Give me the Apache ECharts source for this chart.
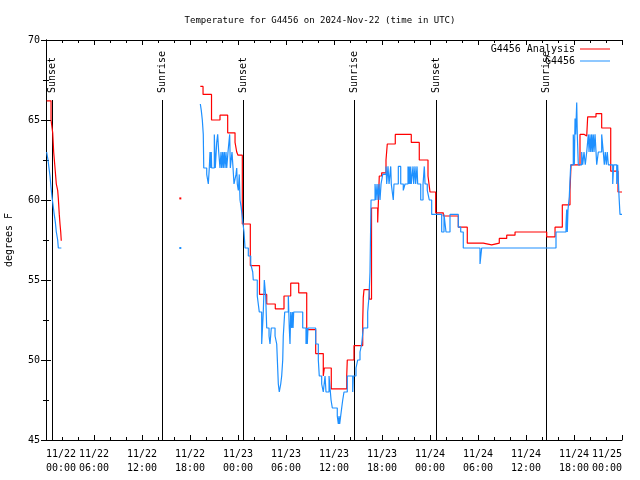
<!DOCTYPE html>
<html><head><meta charset="utf-8">
<script src="https://cdn.jsdelivr.net/npm/echarts@6/dist/echarts.min.js"></script>
<style>html,body{margin:0;padding:0;background:#fff}#c{width:640px;height:480px}</style>
</head><body><div id="c"></div>
<script>
const FONT = '"DejaVu Sans Mono", monospace';
const chartTitle = 'Temperature for G4456 on 2024-Nov-22 (time in UTC)';
const yAxisName = 'degrees F';
const seriesNames = ['G4456 Analysis', 'G4456'];
const xStartDay = 22; // 2024-11-22 00:00 UTC, x values are hours since then

// [hours since 11/22 00:00 UTC, temperature F]; null = gap
const analysis = [
  [0.08,66.2],[0.63,65.0],[0.84,64.2],[0.96,63.0],[1.16,61.8],[1.29,61.0],[1.46,60.6],[1.54,60.1],
  [1.66,59.1],[1.75,58.5],[1.84,58.0],[1.91,57.45],[1.91,null],
  [16.79,60.1],[16.79,null],
  [19.29,67.1],[19.63,66.6],[20.69,65.0],[21.75,65.3],[22.71,64.2],[23.63,63.6],[23.84,63.0],[24.0,62.8],
  [24.54,58.5],[25.54,55.9],[26.69,54.1],[27.59,53.5],[28.66,53.2],[29.75,54.0],[30.59,54.8],[31.59,54.2],
  [32.59,51.9],[33.71,50.4],[34.66,49.0],[34.79,49.5],[35.66,48.2],[36.75,48.2],[37.59,49.0],[37.66,50.0],
  [38.5,50.9],[39.59,52.4],[39.66,53.9],[39.75,54.4],[40.41,53.8],[40.69,59.5],[41.46,58.6],[41.66,61.5],
  [41.96,61.7],[42.5,62.5],[42.66,63.5],[43.66,64.1],[44.66,64.1],[45.66,63.6],[46.66,62.5],[47.75,61.5],
  [48.0,60.5],[48.71,59.2],[49.66,59.0],[51.54,58.3],[52.66,57.3],[54.66,57.2],[55.71,57.3],[56.66,57.6],
  [57.59,57.8],[58.63,58.0],[60.63,58.0],[61.63,58.0],[62.59,57.7],[63.63,58.3],[64.54,59.7],[65.5,60.6],
  [65.63,62.2],[66.75,64.1],[67.29,64.0],[67.59,63.9],[67.71,65.2],[68.75,65.4],[69.46,64.5],[70.59,61.8],
  [71.5,60.5],[72,60.5]
];

const station = [
  [0.08,63.0],[0.25,62.5],[0.375,62.0],[0.5,61.5],[0.625,60.8],[0.75,60.2],[0.875,59.7],[1.0,59.2],
  [1.17,58.6],[1.29,58.0],[1.46,57.5],[1.54,57.0],[1.92,57.0],[1.92,null],
  [16.79,57.0],[16.79,null],
  [19.29,66.0],[19.41,65.6],[19.54,65.0],[19.66,64.1],[19.72,62.0],[20.09,61.6],[20.29,61.0],[20.41,62.0],
  [20.5,63.0],[20.59,62.0],[20.66,63.0],[20.71,62.0],[21.04,64.1],[21.16,62.0],[21.34,63.6],[21.46,64.1],
  [21.59,63.0],[21.75,62.0],[21.88,63.0],[21.96,62.0],[22.09,63.0],[22.16,62.0],[22.29,63.0],[22.38,62.0],
  [22.5,63.0],[22.59,62.0],[22.75,63.0],[22.96,64.1],[23.04,62.0],[23.25,63.0],[23.38,62.0],[23.5,61.0],
  [23.75,61.6],[23.84,62.0],[23.91,61.0],[24.04,60.6],[24.16,61.6],[24.25,60.0],[24.38,59.6],[24.5,59.1],
  [24.63,58.5],[24.75,58.0],[24.88,57.0],[25.29,56.5],[25.59,56.0],[25.84,55.5],[25.91,55.0],[26.41,54.0],
  [26.66,53.0],[26.96,51.0],[27.16,53.0],[27.29,55.0],[27.46,54.0],[27.59,52.0],[27.88,51.5],[28.0,51.0],
  [28.16,52.0],[28.63,51.5],[28.84,51.0],[29.04,48.5],[29.16,48.0],[29.34,48.5],[29.46,49.0],[29.59,50.0],
  [29.66,51.5],[29.84,53.0],[30.29,54.0],[30.41,52.0],[30.5,51.0],[30.59,53.0],[30.71,52.0],[30.79,53.0],
  [30.88,52.0],[30.96,53.0],[32.09,52.0],[32.5,51.0],[32.59,52.0],[32.66,51.0],[32.75,52.0],[33.71,51.0],
  [34.04,50.0],[34.16,49.0],[34.46,48.5],[34.66,48.0],[34.88,49.0],[35.0,48.0],[35.38,49.0],[35.63,47.5],
  [35.79,47.0],[36.41,46.5],[36.54,46.0],[36.63,46.5],[36.71,46.0],[36.96,47.0],[37.09,47.5],[37.25,48.0],
  [37.66,49.0],[38.34,48.0],[38.41,49.0],[38.75,49.5],[38.96,50.0],[39.25,50.5],[39.46,51.0],[39.66,52.0],
  [40.21,53.0],[40.38,54.0],[40.5,55.5],[40.63,60.0],[41.13,61.0],[41.25,60.0],[41.38,61.0],[41.5,60.0],
  [41.63,61.0],[41.75,60.0],[41.88,61.0],[42.09,61.6],[42.5,62.1],[42.59,61.0],[42.75,62.1],[42.88,61.0],
  [43.09,62.1],[43.16,61.0],[43.41,60.0],[43.5,61.0],[44.04,62.1],[44.34,61.0],[44.66,60.6],[44.88,61.0],
  [45.25,62.1],[45.34,61.0],[45.41,62.1],[45.5,61.0],[45.59,62.1],[45.66,61.0],[45.88,62.1],[45.96,61.0],
  [46.13,62.1],[46.21,61.0],[46.38,62.1],[46.46,61.0],[46.84,60.0],[47.13,61.0],[47.29,62.1],[47.38,61.0],
  [47.66,60.6],[47.91,60.0],[48.21,59.1],[49.46,58.0],[49.75,59.1],[50.0,58.0],[50.5,59.1],[51.54,58.3],
  [51.84,58.0],[52.16,57.0],[54.25,56.0],[54.46,57.0],[63.75,58.0],[65.0,58.5],[65.09,59.4],[65.16,58.0],
  [65.25,59.4],[65.41,60.2],[65.59,62.2],[65.91,64.1],[66.04,62.2],[66.13,65.1],[66.21,64.1],[66.34,66.1],
  [66.41,64.1],[66.54,62.2],[66.96,63.0],[67.09,62.2],[67.25,63.0],[67.41,62.2],[67.59,63.0],[67.79,64.1],
  [67.88,63.0],[68.0,64.1],[68.09,63.0],[68.21,64.1],[68.29,63.0],[68.41,64.1],[68.5,63.0],[68.63,64.1],
  [68.84,62.2],[69.04,63.0],[69.46,64.1],[69.66,63.0],[69.79,62.2],[69.91,63.0],[70.04,62.2],[70.16,63.0],
  [70.29,62.2],[70.84,61.0],[70.96,62.2],[71.34,61.0],[71.46,62.2],[71.63,60.2],[71.75,59.1],[72.0,59.1]
];

const sunHours  = [0.71, 14.54, 24.66, 38.54, 48.71, 62.54];
const sunLabels = ['Sunset', 'Sunrise', 'Sunset', 'Sunrise', 'Sunset', 'Sunrise'];

const X_MIN = 0, X_MAX = 72, X_STEP = 6;
const Y_MIN = 45, Y_MAX = 70, Y_STEP = 5;

function pad(n) { return (n < 10 ? '0' : '') + n; }
function xLabel(v) {
  const day = xStartDay + Math.floor(v / 24);
  const hr = Math.round(v % 24);
  return '11/' + day + '\n' + pad(hr) + ':00';
}
function markIsolated(arr) {
  return arr.map((p, i) => {
    const prev = arr[i - 1], next = arr[i + 1];
    if (p[1] != null && (!prev || prev[1] == null) && (!next || next[1] == null)) {
      return { value: p, symbol: 'rect', symbolSize: 2 };
    }
    return p;
  });
}

const chart = echarts.init(document.getElementById('c'), null, { renderer: 'canvas' });

const baseX = {
  type: 'value', min: X_MIN, max: X_MAX, interval: X_STEP,
  axisLine: { lineStyle: { color: '#000', width: 1 } },
  axisTick: { inside: true, length: 5, lineStyle: { color: '#000' } },
  minorTick: { show: true, splitNumber: 3, length: 3, lineStyle: { color: '#000' } },
  splitLine: { show: false }, minorSplitLine: { show: false }
};
const baseY = {
  type: 'value', min: Y_MIN, max: Y_MAX, interval: Y_STEP,
  axisLine: { show: true, lineStyle: { color: '#000', width: 1 } },
  axisTick: { show: true, inside: true, length: 5, lineStyle: { color: '#000' } },
  minorTick: { show: true, splitNumber: 2, length: 3, lineStyle: { color: '#000' } },
  splitLine: { show: false }, minorSplitLine: { show: false }
};

chart.setOption({
  backgroundColor: '#fff',
  animation: false,
  title: {
    text: chartTitle, left: 'center', top: 11,
    textStyle: { fontFamily: FONT, fontSize: 9, fontWeight: 'normal', color: '#000' }
  },
  legend: {
    data: seriesNames, orient: 'vertical', align: 'right', right: 30, top: 44, padding: 0,
    icon: 'rect', itemWidth: 30, itemHeight: 1, itemGap: 2,
    textStyle: { fontFamily: FONT, fontSize: 10, color: '#000', padding: [0, 0, 0, 0] }
  },
  grid: { left: 46, right: 18, top: 40, bottom: 40, containLabel: false, outerBoundsMode: 'none' },
  xAxis: [
    Object.assign({}, baseX, {
      position: 'bottom',
      axisLabel: { formatter: xLabel, fontFamily: FONT, fontSize: 10, color: '#000', lineHeight: 14, margin: 7,
                   alignMinLabel: 'left', alignMaxLabel: 'right' }
    }),
    Object.assign({}, baseX, { position: 'top', axisLabel: { show: false } })
  ],
  yAxis: [
    Object.assign({}, baseY, {
      position: 'left', name: yAxisName, nameLocation: 'middle', nameGap: 32, nameRotate: 90,
      nameTextStyle: { fontFamily: FONT, fontSize: 10, color: '#000' },
      axisLabel: { fontFamily: FONT, fontSize: 10, color: '#000', margin: 6 }
    }),
    Object.assign({}, baseY, { position: 'right', axisLabel: { show: false } })
  ],
  series: [
    {
      type: 'custom', name: 'sun', silent: true, z: 1, clip: false,
      data: sunHours.map(h => [h, Y_MIN]),
      encode: { x: 0, y: 1 },
      renderItem: function (params, api) {
        const h = api.value(0);
        const b = api.coord([h, Y_MIN]);
        const t = api.coord([h, Y_MAX]);
        const x = Math.round(b[0]) + 0.5;
        const yTop = b[1] + (t[1] - b[1]) * 0.85;
        return {
          type: 'group',
          children: [
            { type: 'line', shape: { x1: x, y1: b[1], x2: x, y2: yTop }, style: { stroke: '#000', lineWidth: 1 } },
            { type: 'text', x: x, y: yTop - 7, rotation: Math.PI / 2,
              style: { text: sunLabels[params.dataIndex], fill: '#000', font: '10px "DejaVu Sans Mono"',
                       align: 'left', verticalAlign: 'middle' } }
          ]
        };
      }
    },
    {
      type: 'line', name: seriesNames[0], step: 'end', data: markIsolated(analysis),
      showSymbol: true, symbol: 'none', connectNulls: false, z: 3,
      itemStyle: { color: '#ff0000' }, lineStyle: { color: '#ff0000', width: 1.2 }
    },
    {
      type: 'line', name: seriesNames[1], step: 'end', data: markIsolated(station),
      showSymbol: true, symbol: 'none', connectNulls: false, z: 4,
      itemStyle: { color: '#1e90ff' }, lineStyle: { color: '#1e90ff', width: 1.2 }
    }
  ]
});
</script>
</body></html>
